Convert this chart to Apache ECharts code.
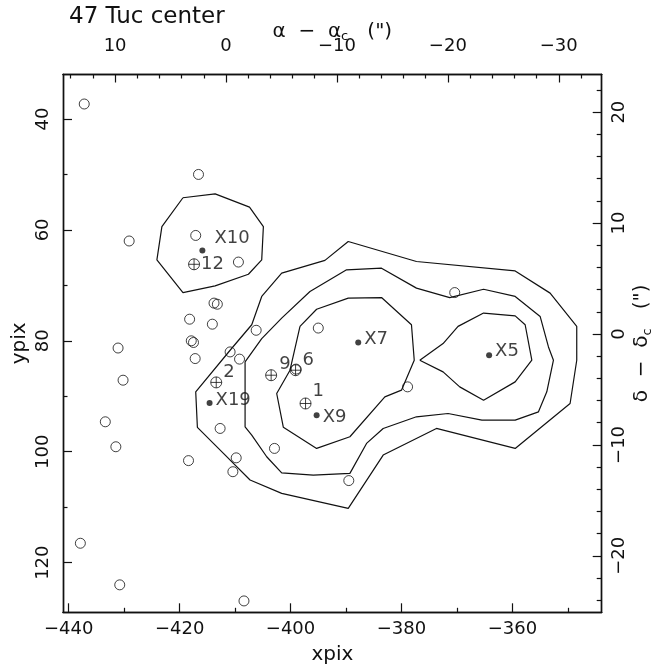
<!DOCTYPE html>
<html lang="en" style="height: 100%">
<head>
  <meta charset="utf-8">
</head>
<body style="height: 100%; margin: 0; background: #fff">
  <div id="container" style="width: 660px; height: 670px"></div>
  <script src="https://cdn.jsdelivr.net/npm/echarts@6/dist/echarts.min.js"></script>
  <script>
    // ---- data (detector pixels) ----
    var circleX = [-437.2, -416.6, -429.1, -417.1, -409.4, -413.8, -413.2, -418.2, -414.1, -406.2, -417.9, -417.5,
      -410.9, -409.2, -417.2, -431.1, -430.2, -433.4, -431.5, -412.7, -418.4, -409.8, -410.4, -402.9,
      -395.0, -389.5, -378.9, -370.4, -437.9, -430.8, -408.4, -399.0];
    var circleY = [37.3, 50.0, 62.0, 61.0, 65.8, 73.2, 73.4, 76.1, 77.0, 78.1, 80.0, 80.3,
      82.0, 83.3, 83.2, 81.3, 87.1, 94.6, 99.1, 95.8, 101.6, 101.1, 103.6, 99.4,
      77.7, 105.2, 88.3, 71.3, 116.5, 124.0, 126.9, 85.1];

    var plusNames = ['1', '2', '6', '9', '12'];
    var plusX = [-397.3, -413.4, -399.1, -403.5, -417.4];
    var plusY = [91.3, 87.5, 85.3, 86.2, 66.2];

    var xrayNames = ['X5', 'X7', 'X9', 'X10', 'X19'];
    var xrayX = [-364.2, -387.8, -395.3, -415.9, -414.6];
    var xrayY = [82.6, 80.3, 93.4, 63.7, 91.2];

    var contourOuter = [
      [-389.6, 62.1], [-377.3, 65.7], [-359.5, 67.4], [-353.2, 71.4], [-348.4, 77.4], [-348.4, 83.5],
      [-349.6, 91.3], [-359.5, 99.4], [-373.7, 95.8], [-383.3, 100.6], [-389.6, 110.2], [-401.6, 107.5],
      [-407.3, 105.1], [-412.1, 100.3], [-416.8, 95.6], [-417.1, 89.2], [-410.9, 81.7], [-407.0, 77.1],
      [-405.2, 72.0], [-401.6, 67.8], [-393.8, 65.5], [-389.6, 62.1]
    ];
    var contourMiddle = [
      [-408.2, 83.8], [-405.2, 79.6], [-401.6, 75.9], [-396.5, 71.1], [-389.9, 67.2], [-383.6, 66.9],
      [-377.3, 70.5], [-371.3, 72.2], [-365.2, 70.7], [-359.5, 72.0], [-355.0, 75.6], [-353.5, 81.1],
      [-352.6, 83.5], [-353.8, 89.2], [-355.3, 92.8], [-359.5, 94.3], [-365.5, 94.3], [-371.6, 93.1],
      [-377.3, 93.7], [-383.3, 95.8], [-386.3, 98.5], [-389.3, 103.9], [-395.9, 104.2], [-401.6, 103.8],
      [-404.3, 100.9], [-407.0, 97.0], [-408.2, 95.5], [-408.2, 83.8]
    ];
    var contourInner = [
      [-398.3, 77.4], [-395.3, 74.3], [-389.6, 72.3], [-383.6, 72.2], [-378.2, 77.1], [-377.7, 83.5],
      [-380.0, 88.9], [-383.0, 90.1], [-389.3, 97.3], [-395.3, 99.4], [-401.3, 95.6], [-402.5, 89.5],
      [-400.1, 85.3], [-398.3, 77.4]
    ];
    var contourX5 = [
      [-376.7, 83.5], [-372.5, 80.5], [-369.8, 77.4], [-365.2, 75.0], [-359.5, 75.5], [-357.7, 77.1],
      [-356.5, 83.5], [-359.5, 87.4], [-365.2, 90.7], [-369.5, 88.3], [-372.5, 85.6], [-376.7, 83.5]
    ];
    var contourX10 = [
      [-419.4, 54.2], [-413.6, 53.5], [-407.4, 55.9], [-404.9, 59.4], [-405.2, 65.4], [-407.6, 68.0],
      [-413.6, 70.1], [-419.4, 71.3], [-424.1, 65.4], [-423.2, 59.4], [-419.4, 54.2]
    ];

    var xpixTicks = [-440, -420, -400, -380, -360];
    var xpixMinor = [-430, -410, -390, -370, -350];
    var ypixTicks = [40, 60, 80, 100, 120];
    var ypixMinor = [50, 70, 90, 110];
    var raTicks = [10, 0, -10, -20, -30];
    var raMinor = [14, 12, 8, 6, 4, 2, -2, -4, -6, -8, -12, -14, -16, -18, -22, -24, -26, -28, -32];
    var decTicks = [20, 10, 0, -10, -20];
    var decMinor = [22, 18, 16, 14, 12, 8, 6, 4, 2, -2, -4, -6, -8, -12, -14, -16, -18, -22, -24];

    // plot window and the cluster centre (pixels), 0.5"/pixel
    var XMIN = -441.03, XMAX = -343.9, YMIN = 31.98, YMAX = 128.95;
    var XC = -411.64, YC = 78.77, SCALE = 0.5;

    var FONT = 'DejaVu Sans';
    var INK = '#111';

    // label nudges per source, px
    var labelShift = {
      'X5': [0, -4], 'X7': [0, -3], 'X9': [0, 2], 'X10': [6, -12], 'X19': [0, -3],
      '1': [0, -12], '2': [0, -10], '6': [0, -10], '9': [1, -11], '12': [0, 0]
    };

    var dom = document.getElementById('container');
    var myChart = echarts.init(dom, null, { renderer: 'canvas' });

    function pts(xs, ys, names) {
      return xs.map(function (x, i) {
        var item = { value: [x, ys[i]] };
        if (names) {
          item.name = names[i];
          item.label = { offset: labelShift[names[i]] };
        }
        return item;
      });
    }

    function contour(d) {
      return {
        type: 'line', data: d, showSymbol: false, symbol: 'none', silent: true,
        lineStyle: { color: INK, width: 1.2 }, z: 2
      };
    }

    function minus(v) { return String(v).replace('-', '−'); }

    var lineStyle = { color: INK, width: 1.4 };
    var labelStyle = { color: INK, fontSize: 18, fontFamily: FONT };

    function tickAxis(pos, min, max, values, len, extra) {
      var a = {
        type: 'value', position: pos, min: min, max: max,
        axisLine: { show: true, onZero: false, lineStyle: lineStyle },
        axisTick: { show: true, inside: true, length: len, customValues: values, lineStyle: { color: INK, width: 1.2 } },
        axisLabel: { show: false },
        splitLine: { show: false },
        minorTick: { show: false },
        nameMoveOverlap: false
      };
      return Object.assign(a, extra || {});
    }

    var subRich = {
      m: { fontSize: 20, fontFamily: FONT, color: INK, lineHeight: 24 },
      s: { fontSize: 13, fontFamily: FONT, color: INK, lineHeight: 14, padding: [12, 0, 0, 0], verticalAlign: 'bottom' }
    };

    var ALPHA_MAX = (XC - XMIN) * SCALE, ALPHA_MIN = (XC - XMAX) * SCALE;
    var DEC_MAX = (YC - YMIN) * SCALE, DEC_MIN = (YC - YMAX) * SCALE;

    var option = {
      animation: false,
      backgroundColor: '#fff',
      title: {
        text: '47 Tuc center', left: 64, top: 1,
        textStyle: { color: INK, fontSize: 23, fontWeight: 'normal', fontFamily: FONT }
      },
      grid: { left: 63, right: 58.3, top: 74.5, bottom: 57.7, containLabel: false, outerBoundsMode: 'none' },
      xAxis: [
        tickAxis('bottom', XMIN, XMAX, xpixTicks, 9, {
          name: 'xpix', nameLocation: 'middle', nameGap: 32,
          nameTextStyle: { color: INK, fontSize: 20, fontFamily: FONT },
          axisLabel: Object.assign({ show: true, margin: 8, customValues: xpixTicks, formatter: minus }, labelStyle)
        }),
        tickAxis('bottom', XMIN, XMAX, xpixMinor, 4.5),
        tickAxis('top', ALPHA_MIN, ALPHA_MAX, raTicks, 8, {
          inverse: true,
          name: '{m|α  −  α}{s|c}{m|   (")}', nameLocation: 'middle', nameGap: 31,
          nameTextStyle: { color: INK, fontFamily: FONT, rich: subRich },
          axisLabel: Object.assign({ show: true, margin: 19, customValues: raTicks, formatter: minus }, labelStyle)
        }),
        tickAxis('top', ALPHA_MIN, ALPHA_MAX, raMinor, 4, { inverse: true })
      ],
      yAxis: [
        tickAxis('left', YMIN, YMAX, ypixTicks, 9, {
          inverse: true,
          name: 'ypix', nameLocation: 'middle', nameGap: 33, nameRotate: 90,
          nameTextStyle: { color: INK, fontSize: 20, fontFamily: FONT },
          axisLabel: Object.assign({ show: true, margin: 11, rotate: 90, customValues: ypixTicks }, labelStyle)
        }),
        tickAxis('left', YMIN, YMAX, ypixMinor, 4.5, { inverse: true }),
        tickAxis('right', DEC_MIN, DEC_MAX, decTicks, 9, {
          name: '{m|δ  −  δ}{s|c}{m|   (")}', nameLocation: 'middle', nameGap: 28, nameRotate: 90,
          nameTextStyle: { color: INK, fontFamily: FONT, rich: subRich },
          axisLabel: Object.assign({ show: true, margin: 9, rotate: 90, customValues: decTicks, formatter: minus }, labelStyle)
        }),
        tickAxis('right', DEC_MIN, DEC_MAX, decMinor, 5)
      ],
      series: [
        contour(contourOuter),
        contour(contourMiddle),
        contour(contourInner),
        contour(contourX5),
        contour(contourX10),
        {
          type: 'scatter', silent: true, z: 3,
          data: pts(circleX, circleY),
          symbol: 'circle', symbolSize: 10,
          itemStyle: { color: 'transparent', borderColor: INK, borderWidth: 1 }
        },
        {
          type: 'scatter', silent: true, z: 4,
          data: pts(plusX, plusY, plusNames),
          symbol: 'path://M10,0A10,10,0,1,1,-10,0A10,10,0,1,1,10,0ZM-10,0L10,0M0,-10L0,10',
          symbolSize: 11,
          itemStyle: { color: 'transparent', borderColor: INK, borderWidth: 1 },
          label: Object.assign({ show: true, position: 'right', distance: 1, formatter: '{b}' }, labelStyle)
        },
        {
          type: 'scatter', silent: true, z: 4,
          data: pts(xrayX, xrayY, xrayNames),
          symbol: 'circle', symbolSize: 6,
          itemStyle: { color: INK },
          label: Object.assign({ show: true, position: 'right', distance: 3, formatter: '{b}' }, labelStyle)
        }
      ]
    };

    myChart.setOption(option);
    window.addEventListener('resize', myChart.resize);
  </script>
</body>
</html>
